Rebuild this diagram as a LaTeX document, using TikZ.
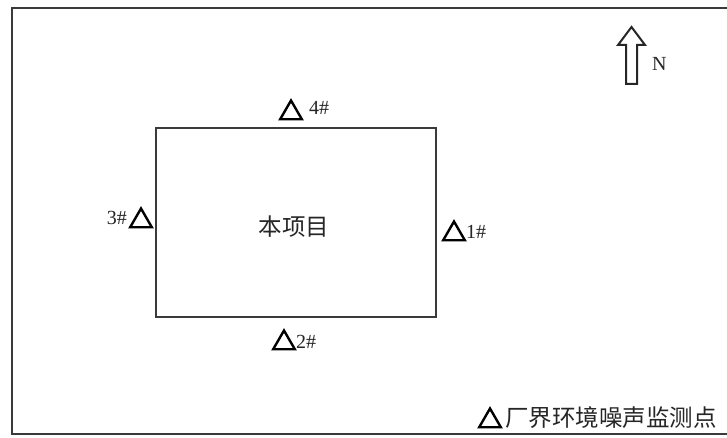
\documentclass[tikz,border=0pt]{standalone}
\usepackage{fontspec}
\setmainfont{Liberation Serif}
\newfontfamily\cjk{Noto Sans CJK SC}
\usetikzlibrary{shapes.geometric}
\definecolor{linegray}{HTML}{3A3A3A}
\tikzset{
  frameline/.style={draw=linegray, line width=2.2pt},
  tri/.style={regular polygon, regular polygon sides=3, draw=black, line width=2.4pt,
     inner sep=0pt, minimum size=25pt},
  lab/.style={inner sep=0pt, font=\fontsize{20}{20}\selectfont, text=black!85},
  cjklab/.style={inner sep=0pt, font=\cjk\fontsize{23.5}{24}\selectfont, text=black!85},
}
\begin{document}
\begin{tikzpicture}[x=1pt,y=-1pt]
\useasboundingbox (0,0) rectangle (727,438);
\fill[white] (0,0) rectangle (727,438);
\clip (0,0) rectangle (727,438);
% outer frame
\draw[frameline] (740,8) -- (12,8) -- (12,434) -- (740,434);
% project box
\node[frameline, minimum width=280pt, minimum height=189pt, inner sep=0pt, anchor=north west] (proj) at (155,127) {};
\node[cjklab] (projlab) at (294,227) {本项目};
% monitoring points
\node[tri] (t4) at (291,113) {};
\node[lab, anchor=west] (l4) at (309,108) {4\#};
\node[tri] (t3) at (141,221) {};
\node[lab, anchor=east] (l3) at (127,218) {3\#};
\node[tri] (t1) at (454,234) {};
\node[lab, anchor=west] (l1) at (466,232) {1\#};
\node[tri] (t2) at (284,343) {};
\node[lab, anchor=west] (l2) at (296,342) {2\#};
% legend
\node[tri] (tleg) at (490,421) {};
\node[cjklab, anchor=west] (leg) at (505,418) {厂界环境噪声监测点};
% north arrow
\draw[line width=2pt, draw=black!85] (626,84) -- (637,84) -- (637,45) -- (645,45) -- (631.5,27) -- (618,45) -- (626,45) -- cycle;
\node[lab, anchor=west] (north) at (652,64) {N};
\end{tikzpicture}
\end{document}
